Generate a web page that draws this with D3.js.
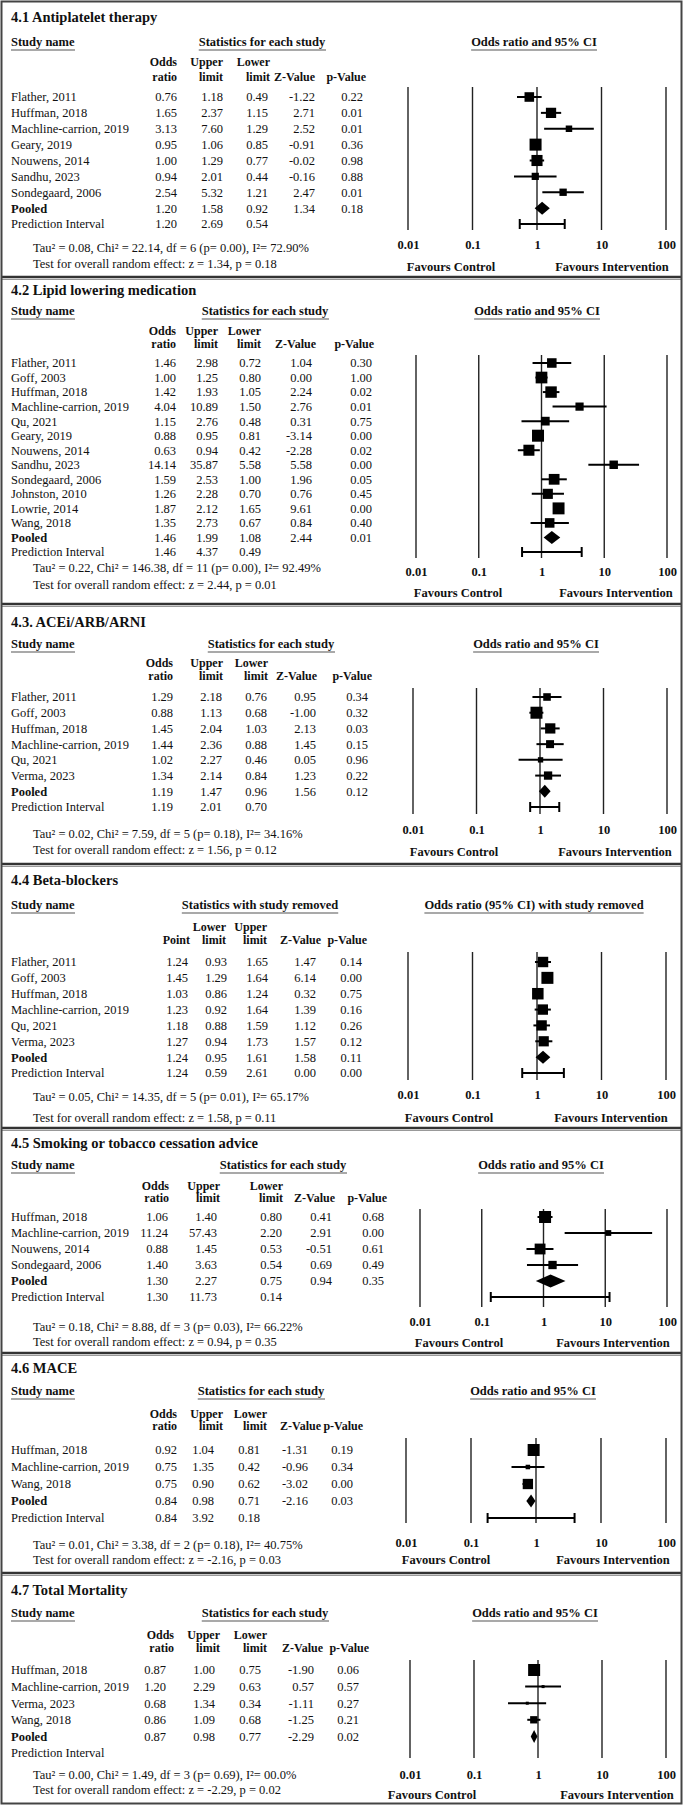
<!DOCTYPE html>
<html>
<head>
<meta charset="utf-8">
<script src="https://cdn.jsdelivr.net/npm/d3@7"></script>
<style>
  body { margin: 0; background: #fff; }
  svg { display: block; }
  text { font-family: "Liberation Serif", "Times New Roman", serif; fill: #111; }
</style>
</head>
<body>
<svg id="chart" width="685" height="1806"></svg>
<script>
// ---- values ----

// 4.1 Antiplatelet therapy
const antiNames = ["Flather, 2011", "Huffman, 2018", "Machline-carrion, 2019", "Geary, 2019", "Nouwens, 2014", "Sandhu, 2023", "Sondegaard, 2006", "Pooled", "Prediction Interval"];
const antiOR    = [0.76, 1.65, 3.13, 0.95, 1.00, 0.94, 2.54, 1.20, 1.20];
const antiUpper = [1.18, 2.37, 7.60, 1.06, 1.29, 2.01, 5.32, 1.58, 2.69];
const antiLower = [0.49, 1.15, 1.29, 0.85, 0.77, 0.44, 1.21, 0.92, 0.54];
const antiZ     = [-1.22, 2.71, 2.52, -0.91, -0.02, -0.16, 2.47, 1.34, null];
const antiP     = [0.22, 0.01, 0.01, 0.36, 0.98, 0.88, 0.01, 0.18, null];

// 4.2 Lipid lowering medication
const lipidNames = ["Flather, 2011", "Goff, 2003", "Huffman, 2018", "Machline-carrion, 2019", "Qu, 2021", "Geary, 2019", "Nouwens, 2014", "Sandhu, 2023", "Sondegaard, 2006", "Johnston, 2010", "Lowrie, 2014", "Wang, 2018", "Pooled", "Prediction Interval"];
const lipidOR    = [1.46, 1.00, 1.42, 4.04, 1.15, 0.88, 0.63, 14.14, 1.59, 1.26, 1.87, 1.35, 1.46, 1.46];
const lipidUpper = [2.98, 1.25, 1.93, 10.89, 2.76, 0.95, 0.94, 35.87, 2.53, 2.28, 2.12, 2.73, 1.99, 4.37];
const lipidLower = [0.72, 0.80, 1.05, 1.50, 0.48, 0.81, 0.42, 5.58, 1.00, 0.70, 1.65, 0.67, 1.08, 0.49];
const lipidZ     = [1.04, 0.00, 2.24, 2.76, 0.31, -3.14, -2.28, 5.58, 1.96, 0.76, 9.61, 0.84, 2.44, null];
const lipidP     = [0.30, 1.00, 0.02, 0.01, 0.75, 0.00, 0.02, 0.00, 0.05, 0.45, 0.00, 0.40, 0.01, null];

// 4.3 ACEi/ARB/ARNI
const aceNames = ["Flather, 2011", "Goff, 2003", "Huffman, 2018", "Machline-carrion, 2019", "Qu, 2021", "Verma, 2023", "Pooled", "Prediction Interval"];
const aceOR    = [1.29, 0.88, 1.45, 1.44, 1.02, 1.34, 1.19, 1.19];
const aceUpper = [2.18, 1.13, 2.04, 2.36, 2.27, 2.14, 1.47, 2.01];
const aceLower = [0.76, 0.68, 1.03, 0.88, 0.46, 0.84, 0.96, 0.70];
const aceZ     = [0.95, -1.00, 2.13, 1.45, 0.05, 1.23, 1.56, null];
const aceP     = [0.34, 0.32, 0.03, 0.15, 0.96, 0.22, 0.12, null];

// 4.4 Beta-blockers (study removed)
const betaNames = ["Flather, 2011", "Goff, 2003", "Huffman, 2018", "Machline-carrion, 2019", "Qu, 2021", "Verma, 2023", "Pooled", "Prediction Interval"];
const betaPoint = [1.24, 1.45, 1.03, 1.23, 1.18, 1.27, 1.24, 1.24];
const betaLower = [0.93, 1.29, 0.86, 0.92, 0.88, 0.94, 0.95, 0.59];
const betaUpper = [1.65, 1.64, 1.24, 1.64, 1.59, 1.73, 1.61, 2.61];
const betaZ     = [1.47, 6.14, 0.32, 1.39, 1.12, 1.57, 1.58, 0.00];
const betaP     = [0.14, 0.00, 0.75, 0.16, 0.26, 0.12, 0.11, 0.00];

// 4.5 Smoking or tobacco cessation advice
const smokeNames = ["Huffman, 2018", "Machline-carrion, 2019", "Nouwens, 2014", "Sondegaard, 2006", "Pooled", "Prediction Interval"];
const smokeOR    = [1.06, 11.24, 0.88, 1.40, 1.30, 1.30];
const smokeUpper = [1.40, 57.43, 1.45, 3.63, 2.27, 11.73];
const smokeLower = [0.80, 2.20, 0.53, 0.54, 0.75, 0.14];
const smokeZ     = [0.41, 2.91, -0.51, 0.69, 0.94, null];
const smokeP     = [0.68, 0.00, 0.61, 0.49, 0.35, null];

// 4.6 MACE
const maceNames = ["Huffman, 2018", "Machline-carrion, 2019", "Wang, 2018", "Pooled", "Prediction Interval"];
const maceOR    = [0.92, 0.75, 0.75, 0.84, 0.84];
const maceUpper = [1.04, 1.35, 0.90, 0.98, 3.92];
const maceLower = [0.81, 0.42, 0.62, 0.71, 0.18];
const maceZ     = [-1.31, -0.96, -3.02, -2.16, null];
const maceP     = [0.19, 0.34, 0.00, 0.03, null];

// 4.7 Total Mortality
const mortNames = ["Huffman, 2018", "Machline-carrion, 2019", "Verma, 2023", "Wang, 2018", "Pooled", "Prediction Interval"];
const mortOR    = [0.87, 1.20, 0.68, 0.86, 0.87, null];
const mortUpper = [1.00, 2.29, 1.34, 1.09, 0.98, null];
const mortLower = [0.75, 0.63, 0.34, 0.68, 0.77, null];
const mortZ     = [-1.90, 0.57, -1.11, -1.25, -2.29, null];
const mortP     = [0.06, 0.57, 0.27, 0.21, 0.02, null];

const titles = ["4.1 Antiplatelet therapy", "4.2 Lipid lowering medication", "4.3. ACEi/ARB/ARNI", "4.4 Beta-blockers",
                "4.5 Smoking or tobacco cessation advice", "4.6 MACE", "4.7 Total Mortality"];
const tau2 = [0.08, 0.22, 0.02, 0.05, 0.18, 0.01, 0.00];
const hetText = [
  "Tau\u00b2 = 0.08, Chi\u00b2 = 22.14, df = 6 (p= 0.00), I\u00b2= 72.90%",
  "Tau\u00b2 = 0.22, Chi\u00b2 = 146.38, df = 11 (p= 0.00), I\u00b2= 92.49%",
  "Tau\u00b2 = 0.02, Chi\u00b2 = 7.59, df = 5 (p= 0.18), I\u00b2= 34.16%",
  "Tau\u00b2 = 0.05, Chi\u00b2 = 14.35, df = 5 (p= 0.01), I\u00b2= 65.17%",
  "Tau\u00b2 = 0.18, Chi\u00b2 = 8.88, df = 3 (p= 0.03), I\u00b2= 66.22%",
  "Tau\u00b2 = 0.01, Chi\u00b2 = 3.38, df = 2 (p= 0.18), I\u00b2= 40.75%",
  "Tau\u00b2 = 0.00, Chi\u00b2 = 1.49, df = 3 (p= 0.69), I\u00b2= 00.0%"
];
const testText = [
  "Test for overall random effect: z = 1.34, p = 0.18",
  "Test for overall random effect: z = 2.44, p = 0.01",
  "Test for overall random effect: z = 1.56, p = 0.12",
  "Test for overall random effect: z = 1.58, p = 0.11",
  "Test for overall random effect: z = 0.94, p = 0.35",
  "Test for overall random effect: z = -2.16, p = 0.03",
  "Test for overall random effect: z = -2.29, p = 0.02"
];
const tickVals = [0.01, 0.1, 1, 10, 100];

// standard column headers, beta-blockers has its own order
const stdCols = [["Odds", "ratio"], ["Upper", "limit"], ["Lower", "limit"], ["", "Z-Value"], ["", "p-Value"]];
const betaCols = [["", "Point"], ["Lower", "limit"], ["Upper", "limit"], ["", "Z-Value"], ["", "p-Value"]];

// build the panel table from the arrays
const panels = [
  { names: antiNames, est: antiOR, lo: antiLower, hi: antiUpper, cols: [antiOR, antiUpper, antiLower, antiZ, antiP], heads: stdCols,
    statHead: "Statistics for each study", plotHead: "Odds ratio and 95% CI" },
  { names: lipidNames, est: lipidOR, lo: lipidLower, hi: lipidUpper, cols: [lipidOR, lipidUpper, lipidLower, lipidZ, lipidP], heads: stdCols,
    statHead: "Statistics for each study", plotHead: "Odds ratio and 95% CI" },
  { names: aceNames, est: aceOR, lo: aceLower, hi: aceUpper, cols: [aceOR, aceUpper, aceLower, aceZ, aceP], heads: stdCols,
    statHead: "Statistics for each study", plotHead: "Odds ratio and 95% CI" },
  { names: betaNames, est: betaPoint, lo: betaLower, hi: betaUpper, cols: [betaPoint, betaLower, betaUpper, betaZ, betaP], heads: betaCols,
    statHead: "Statistics with study removed", plotHead: "Odds ratio (95% CI) with study removed" },
  { names: smokeNames, est: smokeOR, lo: smokeLower, hi: smokeUpper, cols: [smokeOR, smokeUpper, smokeLower, smokeZ, smokeP], heads: stdCols,
    statHead: "Statistics for each study", plotHead: "Odds ratio and 95% CI" },
  { names: maceNames, est: maceOR, lo: maceLower, hi: maceUpper, cols: [maceOR, maceUpper, maceLower, maceZ, maceP], heads: stdCols,
    statHead: "Statistics for each study", plotHead: "Odds ratio and 95% CI" },
  { names: mortNames, est: mortOR, lo: mortLower, hi: mortUpper, cols: [mortOR, mortUpper, mortLower, mortZ, mortP], heads: stdCols,
    statHead: "Statistics for each study", plotHead: "Odds ratio and 95% CI" }
];

// ---- layout (pixel positions measured on the figure) ----
const layouts = [
  { title: 17, head: 42, hdr1: 62, hdr2: 77, rowFirst: 97, rowLast: 224, tau: 248, test: 264,
    lineTop: 87, lineBot: 230, tick: 245, fav: 267, sep: 277, x0: 408, x1: 666,
    statX: 262, plotX: 534, favC: 451, favI: 612,
    valX: [177, 223, 268, 315, 363], hdrX: [177, 223, 270, 315, 366] },
  { title: 290, head: 311, hdr1: 331, hdr2: 344, rowFirst: 363, rowLast: 552, tau: 568, test: 585,
    lineTop: 355, lineBot: 558, tick: 572, fav: 593, sep: 604, x0: 416, x1: 667,
    statX: 265, plotX: 537, favC: 458, favI: 616,
    valX: [176, 218, 261, 312, 372], hdrX: [176, 218, 261, 316, 374] },
  { title: 622, head: 644, hdr1: 663, hdr2: 676, rowFirst: 697, rowLast: 807, tau: 834, test: 850,
    lineTop: 688, lineBot: 814, tick: 830, fav: 852, sep: 864, x0: 413, x1: 667,
    statX: 271, plotX: 536, favC: 454, favI: 615,
    valX: [173, 222, 267, 316, 368], hdrX: [173, 223, 268, 317, 372] },
  { title: 880, head: 905, hdr1: 927, hdr2: 940, rowFirst: 962, rowLast: 1073, tau: 1097, test: 1118,
    lineTop: 952, lineBot: 1080, tick: 1095, fav: 1118, sep: 1128, x0: 408, x1: 666,
    statX: 260, plotX: 534, favC: 449, favI: 611,
    valX: [188, 227, 268, 316, 362], hdrX: [190, 226, 267, 321, 367] },
  { title: 1143, head: 1165, hdr1: 1186, hdr2: 1198, rowFirst: 1217, rowLast: 1297, tau: 1327, test: 1342,
    lineTop: 1209, lineBot: 1307, tick: 1322, fav: 1343, sep: 1353, x0: 420, x1: 667,
    statX: 283, plotX: 541, favC: 459, favI: 613,
    valX: [168, 217, 282, 332, 384], hdrX: [169, 220, 283, 335, 387] },
  { title: 1368, head: 1391, hdr1: 1414, hdr2: 1426, rowFirst: 1450, rowLast: 1518, tau: 1545, test: 1560,
    lineTop: 1438, lineBot: 1523, tick: 1543, fav: 1560, sep: 1573, x0: 406, x1: 666,
    statX: 261, plotX: 533, favC: 446, favI: 613,
    valX: [177, 214, 260, 308, 353], hdrX: [177, 223, 267, 321, 363] },
  { title: 1590, head: 1613, hdr1: 1635, hdr2: 1648, rowFirst: 1670, rowLast: 1753, tau: 1775, test: 1790,
    lineTop: 1660, lineBot: 1758, tick: 1775, fav: 1795, sep: null, x0: 410, x1: 666,
    statX: 265, plotX: 535, favC: 432, favI: 617,
    valX: [166, 215, 261, 314, 359], hdrX: [174, 220, 267, 323, 369] }
];

const fmt = v => (v == null ? "" : v.toFixed(2));
const svg = d3.select("#chart");

// text helper
function label(g, x, y, str, opts = {}) {
  return g.append("text")
    .attr("x", x).attr("y", y).attr("dy", "0.35em")
    .attr("font-size", opts.size || 12.5)
    .attr("font-weight", opts.bold ? "bold" : null)
    .attr("text-anchor", opts.anchor || "start")
    .text(str);
}

// bold heading with the grey rule under it
function underlined(g, x, y, str, anchor) {
  const t = label(g, x, y, str, { size: 12.5, bold: true, anchor: anchor });
  const bb = t.node().getBBox();
  g.append("line")
    .attr("x1", bb.x).attr("x2", bb.x + bb.width)
    .attr("y1", y + 8).attr("y2", y + 8)
    .attr("stroke", "#8c8c8c").attr("stroke-width", 1.6);
}

panels.forEach((p, i) => {
  const L = layouts[i];
  const g = svg.append("g");
  const n = p.names.length;
  const y = d3.scaleLinear().domain([0, n - 1]).range([L.rowFirst, L.rowLast]);
  const x = d3.scaleLog().domain([0.01, 100]).range([L.x0, L.x1]);

  label(g, 11, L.title, titles[i], { size: 14.5, bold: true });
  underlined(g, 11, L.head, "Study name", "start");
  underlined(g, L.statX, L.head, p.statHead, "middle");
  underlined(g, L.plotX, L.head, p.plotHead, "middle");

  // column headers
  p.heads.forEach((h, j) => {
    if (h[0]) label(g, L.hdrX[j], L.hdr1, h[0], { size: 12, bold: true, anchor: "end" });
    label(g, L.hdrX[j], L.hdr2, h[1], { size: 12, bold: true, anchor: "end" });
  });

  // table rows
  p.names.forEach((name, r) => {
    label(g, 11, y(r), name, { bold: name === "Pooled" });
    p.cols.forEach((col, j) => {
      if (col[r] != null) label(g, L.valX[j], y(r), fmt(col[r]), { anchor: "end" });
    });
  });

  label(g, 33, L.tau, hetText[i]);
  label(g, 33, L.test, testText[i]);

  // vertical reference lines
  g.selectAll("line.grid").data(tickVals).join("line")
    .attr("class", "grid")
    .attr("x1", d => x(d)).attr("x2", d => x(d))
    .attr("y1", L.lineTop).attr("y2", L.lineBot)
    .attr("stroke", "#222").attr("stroke-width", 1.4);

  // tick labels through the axis
  const axis = d3.axisBottom(x).tickValues(tickVals).tickFormat(d => String(d)).tickSize(0).tickPadding(0);
  const ag = g.append("g").attr("transform", `translate(0,${L.tick})`).call(axis);
  ag.select(".domain").remove();
  ag.selectAll("text")
    .attr("y", 0).attr("dy", "0.35em")
    .attr("font-size", 12.5).attr("font-weight", "bold")
    .attr("font-family", "Liberation Serif, Times New Roman, serif")
    .attr("fill", "#111");

  label(g, L.favC, L.fav, "Favours Control", { size: 12.5, bold: true, anchor: "middle" });
  label(g, L.favI, L.fav, "Favours Intervention", { size: 12.5, bold: true, anchor: "middle" });

  // marker size from random-effects weights
  const studies = d3.range(n).filter(r => p.names[r] !== "Pooled" && p.names[r] !== "Prediction Interval");
  const weight = r => {
    const se = Math.log(p.hi[r] / p.lo[r]) / 3.92;
    return 1 / (se * se + tau2[i]);
  };
  const size = d3.scaleSqrt().domain([0, d3.max(studies, weight)]).range([0, 12]);

  studies.forEach(r => {
    g.append("line")
      .attr("x1", x(p.lo[r])).attr("x2", x(p.hi[r]))
      .attr("y1", y(r)).attr("y2", y(r))
      .attr("stroke", "#000").attr("stroke-width", 2);
    const s = Math.max(size(weight(r)), 3);
    g.append("rect")
      .attr("x", x(p.est[r]) - s / 2).attr("y", y(r) - s / 2)
      .attr("width", s).attr("height", s)
      .attr("fill", "#000");
  });

  const pr = p.names.indexOf("Pooled");
  if (pr >= 0) {
    const yc = y(pr), h = 6.5;
    g.append("path")
      .attr("d", `M${x(p.lo[pr])},${yc} L${x(p.est[pr])},${yc - h} L${x(p.hi[pr])},${yc} L${x(p.est[pr])},${yc + h} Z`)
      .attr("fill", "#000");
  }

  const pi = p.names.indexOf("Prediction Interval");
  if (pi >= 0 && p.lo[pi] != null) {
    const yc = y(pi);
    g.append("line")
      .attr("x1", x(p.lo[pi])).attr("x2", x(p.hi[pi]))
      .attr("y1", yc).attr("y2", yc)
      .attr("stroke", "#000").attr("stroke-width", 2);
    [p.lo[pi], p.hi[pi]].forEach(v => {
      g.append("line")
        .attr("x1", x(v)).attr("x2", x(v))
        .attr("y1", yc - 5).attr("y2", yc + 5)
        .attr("stroke", "#000").attr("stroke-width", 2);
    });
  }

  // rule between panels
  if (L.sep != null) {
    svg.append("line")
      .attr("x1", 1).attr("x2", 682)
      .attr("y1", L.sep).attr("y2", L.sep)
      .attr("stroke", "#333").attr("stroke-width", 2.6);
    svg.append("line")
      .attr("x1", 1).attr("x2", 682)
      .attr("y1", L.sep + 2.5).attr("y2", L.sep + 2.5)
      .attr("stroke", "#999").attr("stroke-width", 1);
  }
});

// outer frame
svg.append("rect")
  .attr("x", 1.5).attr("y", 1.5).attr("width", 680).attr("height", 1802)
  .attr("fill", "none").attr("stroke", "#444").attr("stroke-width", 2);
</script>
</body>
</html>
